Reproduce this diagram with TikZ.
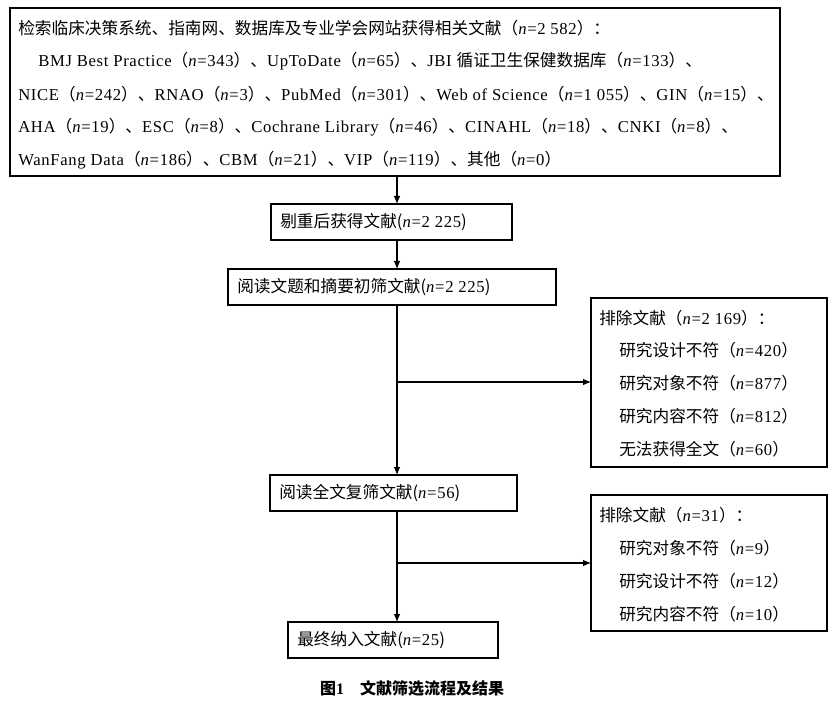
\documentclass[tikz,border=0pt]{standalone}
\usepackage{fontspec}
\usetikzlibrary{arrows.meta}
\setmainfont[LetterSpace=4]{Liberation Serif}
\newfontfamily\cjk{Noto Sans CJK SC}
\newcommand{\zh}[1]{{\cjk #1}}
\newcommand{\nn}[1]{\zh{（}\textit{n}=#1\zh{）}}
\begin{document}
\begin{tikzpicture}[x=0.75pt,y=-0.75pt,
    box/.style={draw, line width=0.8pt},
    txt/.style={anchor=west, inner sep=0pt, font=\fontsize{12.5}{15}\selectfont},
    flow/.style={line width=0.8pt, -{Latex[length=6pt,width=5pt]}}]
\useasboundingbox (0,0) rectangle (839,702);
% boxes
\draw[box] (10,8) rectangle (780,176);
\node[txt] (t1) at (18,28)  {\zh{检索临床决策系统、指南网、数据库及专业学会网站获得相关文献}\nn{2 582}\zh{：}};
\node[txt] (t2) at (38,61)  {BMJ Best Practice\nn{343}\zh{、}UpToDate\nn{65}\zh{、}JBI \zh{循证卫生保健数据库}\nn{133}\zh{、}};
\node[txt] (t3) at (18,94)  {NICE\nn{242}\zh{、}RNAO\nn{3}\zh{、}PubMed\nn{301}\zh{、}Web of Science\nn{1 055}\zh{、}GIN\nn{15}\zh{、}};
\node[txt] (t4) at (18,127) {AHA\nn{19}\zh{、}ESC\nn{8}\zh{、}Cochrane Library\nn{46}\zh{、}CINAHL\nn{18}\zh{、}CNKI\nn{8}\zh{、}};
\node[txt] (t5) at (18,160) {WanFang Data\nn{186}\zh{、}CBM\nn{21}\zh{、}VIP\nn{119}\zh{、其他}\nn{0}};
\coordinate (top) at (397,176);

\draw[box] (271,204) rectangle (512,240);
\node[txt] (b2) at (280,222) {\zh{剔重后获得文献}\zh{(}\textit{n}=2 225\zh{)}};
\coordinate (b2t) at (397,204); \coordinate (b2b) at (397,240);

\draw[box] (228,269) rectangle (556,305);
\node[txt] (b3) at (237,287) {\zh{阅读文题和摘要初筛文献}\zh{(}\textit{n}=2 225\zh{)}};
\coordinate (b3t) at (397,269); \coordinate (b3b) at (397,305);

\draw[box] (591,298) rectangle (827,467);
\node[txt] (e1) at (599,318) {\zh{排除文献}\nn{2 169}\zh{：}};
\node[txt] (e2) at (619,350) {\zh{研究设计不符}\nn{420}};
\node[txt] (e3) at (619,383) {\zh{研究对象不符}\nn{877}};
\node[txt] (e4) at (619,416) {\zh{研究内容不符}\nn{812}};
\node[txt] (e5) at (619,449) {\zh{无法获得全文}\nn{60}};
\coordinate (x1) at (397,382); \coordinate (x1e) at (591,382);

\draw[box] (270,475) rectangle (517,511);
\node[txt] (b4) at (279,493) {\zh{阅读全文复筛文献}\zh{(}\textit{n}=56\zh{)}};
\coordinate (b4t) at (397,475); \coordinate (b4b) at (397,511);

\draw[box] (591,495) rectangle (827,631);
\node[txt] (f1) at (599,515) {\zh{排除文献}\nn{31}\zh{：}};
\node[txt] (f2) at (619,548) {\zh{研究对象不符}\nn{9}};
\node[txt] (f3) at (619,581) {\zh{研究设计不符}\nn{12}};
\node[txt] (f4) at (619,614) {\zh{研究内容不符}\nn{10}};
\coordinate (x2) at (397,563); \coordinate (x2e) at (591,563);

\draw[box] (288,622) rectangle (498,658);
\node[txt] (b5) at (297,640) {\zh{最终纳入文献}\zh{(}\textit{n}=25\zh{)}};
\coordinate (b5t) at (397,622);

% connectors
\draw[flow] (top) -- (b2t);
\draw[flow] (b2b) -- (b3t);
\draw[flow] (b3b) -- (b4t);
\draw[flow] (x1) -- (x1e);
\draw[flow] (b4b) -- (b5t);
\draw[flow] (x2) -- (x2e);

\node[font=\fontsize{12}{14}\selectfont\bfseries] (cap) at (412,688) {\zh{图}1\quad\zh{文献筛选流程及结果}};
\end{tikzpicture}
\end{document}
